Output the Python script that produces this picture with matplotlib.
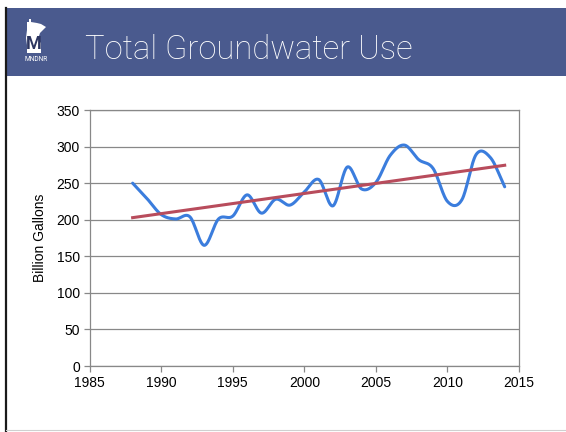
import matplotlib
matplotlib.use("Agg")
import matplotlib.pyplot as plt
import matplotlib.transforms as mtransforms
from matplotlib.patches import Rectangle, Polygon
import numpy as np

# Annual total groundwater use, billion gallons
years = list(range(1988, 2015))
use_bgal = [250, 229, 207, 201, 204, 165, 201, 205, 234, 209, 228, 220, 238, 255,
            219, 272, 242, 251, 288, 302, 282, 270, 225, 227, 289, 285, 245]

x_ticks = [1985, 1990, 1995, 2000, 2005, 2010, 2015]
y_ticks = [0, 50, 100, 150, 200, 250, 300, 350]
title_text = "Total Groundwater Use"
y_label = "Billion Gallons"

W, H = 566, 432
HEADER_BLUE = "#4a5a8e"
LINE_BLUE = "#3b7ddd"
TREND_RED = "#b84c5c"
GRID_GREY = "#888888"


def smooth_curve(xs, ys, n=30):
    """Catmull-Rom spline through the points (spreadsheet-style smoothed line)."""
    xs = np.asarray(xs, float)
    ys = np.asarray(ys, float)
    px = np.concatenate([[2 * xs[0] - xs[1]], xs, [2 * xs[-1] - xs[-2]]])
    py = np.concatenate([[ys[0]], ys, [ys[-1]]])
    py[0] = ys[0] - (ys[1] - ys[0])
    py[-1] = ys[-1] + (ys[-1] - ys[-2])
    out_x, out_y = [], []
    t = np.linspace(0, 1, n, endpoint=False)
    for i in range(1, len(px) - 2):
        p0, p1, p2, p3 = py[i - 1], py[i], py[i + 1], py[i + 2]
        m1 = (p2 - p0) / 2.0
        m2 = (p3 - p1) / 2.0
        h00 = 2 * t**3 - 3 * t**2 + 1
        h10 = t**3 - 2 * t**2 + t
        h01 = -2 * t**3 + 3 * t**2
        h11 = t**3 - t**2
        out_y.append(h00 * p1 + h10 * m1 + h01 * p2 + h11 * m2)
        out_x.append(px[i] + t * (px[i + 1] - px[i]))
    out_x.append([xs[-1]])
    out_y.append([ys[-1]])
    return np.concatenate(out_x), np.concatenate(out_y)


fig = plt.figure(figsize=(W / 100, H / 100), dpi=100)
fig.patch.set_facecolor("white")

# pixel coordinates measured from the top-left corner of the slide
px_tr = mtransforms.Affine2D().scale(1 / W, -1 / H).translate(0, 1) + fig.transFigure

# header band
fig.add_artist(Rectangle((5, 8), W - 5, 68, transform=px_tr, facecolor=HEADER_BLUE,
                         edgecolor="none", zorder=1))
# left slide border
fig.add_artist(plt.Line2D([6, 6], [8, H], transform=px_tr, color="#1a1a1a", lw=1.6, zorder=2))
fig.add_artist(plt.Line2D([6, W], [430, 430], transform=px_tr, color="#d0d0d0", lw=0.8, zorder=2))

# state-shaped logo
mn_shape = [(27, 22), (29, 22), (29, 19), (31, 19), (31, 22), (37, 23), (41, 24),
            (46, 27), (44, 29), (40, 33), (39, 36), (39, 41), (41, 43), (41, 53),
            (27, 53), (27, 45), (26, 38), (27, 30)]
fig.add_artist(Polygon(mn_shape, closed=True, transform=px_tr, facecolor="white",
                       edgecolor="none", zorder=3))
fig.text(33.5, 44, "M", transform=px_tr, color="#2c3560", fontsize=13, fontweight="bold",
         family="Roboto", ha="center", va="center", zorder=4)
fig.text(36, 59.5, "MNDNR", transform=px_tr, color="white", fontsize=4.8,
         family="Roboto", ha="center", va="center", zorder=4)

# slide title
fig.text(85, 59, title_text, transform=px_tr, color="white", fontsize=23.6,
         family="Roboto", fontweight="light", ha="left", va="baseline", zorder=4)

# chart
ax = fig.add_axes([89.7 / W, 1 - 366 / H, (519 - 89.7) / W, (366 - 110) / H])
ax.set_xlim(1985, 2015)
ax.set_ylim(0, 350)
ax.set_xticks(x_ticks)
ax.set_yticks(y_ticks)
ax.grid(axis="y", color=GRID_GREY, lw=0.9)
ax.set_axisbelow(True)
for side in ["left", "right", "bottom", "top"]:
    ax.spines[side].set_color(GRID_GREY)
    ax.spines[side].set_linewidth(0.9)
ax.tick_params(axis="both", direction="out", length=4, width=0.9, color=GRID_GREY,
               labelsize=10, labelcolor="black", pad=3)
for lbl in ax.get_xticklabels() + ax.get_yticklabels():
    lbl.set_family("Liberation Sans")
ax.set_ylabel(y_label, family="Liberation Sans", fontsize=10, labelpad=7)

sx, sy = smooth_curve(years, use_bgal)
ax.plot(sx, sy, color=LINE_BLUE, lw=2.2, solid_capstyle="round", zorder=3)

coef = np.polyfit(years, use_bgal, 1)
trend_x = np.array([years[0], years[-1]])
ax.plot(trend_x, np.polyval(coef, trend_x), color=TREND_RED, lw=2.2, zorder=4)

fig.savefig("out.png", dpi=100, facecolor="white")
